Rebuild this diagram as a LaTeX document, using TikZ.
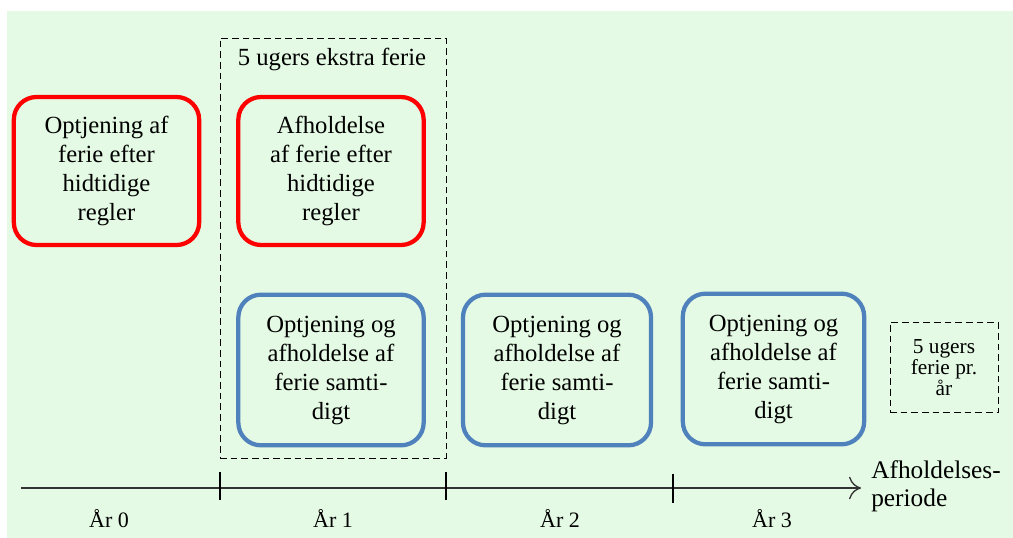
\documentclass[tikz,border=0pt]{standalone}
\usepackage{fontspec}
\setmainfont{Liberation Serif}
\usetikzlibrary{arrows.meta}
\definecolor{bggreen}{RGB}{228,250,228}
\definecolor{boxred}{RGB}{255,0,0}
\definecolor{boxblue}{RGB}{79,129,189}
\tikzset{
  bigtext/.style={font=\fontsize{18.5}{21.75}\selectfont, align=center, text=black},
  redbox/.style={draw=boxred, line width=3.2pt, rounded corners=17pt, minimum width=139pt, minimum height=111pt, inner sep=0pt, bigtext},
  bluebox/.style={draw=boxblue, line width=3.2pt, rounded corners=17pt, minimum height=113pt, inner sep=0pt, bigtext},
  dashbox/.style={draw=black, dashed, line width=0.7pt, dash pattern=on 5pt off 3pt},
  tick/.style={draw=black, line width=0.8pt},
  yearlbl/.style={font=\fontsize{16.5}{18}\selectfont, text=black, anchor=base},
}
\begin{document}
\begin{tikzpicture}[x=0.75pt,y=-0.75pt]
\useasboundingbox (0,0) rectangle (1013,538);
\fill[bggreen] (7,11) rectangle (1013,538);
% dashed group box
\node[dashbox, minimum width=169.5pt, minimum height=315pt, inner sep=0pt] (grp) at (333,248) {};
\node[bigtext, anchor=base] (grplbl) at (332,66) {5 ugers ekstra ferie};
% red boxes
\node[redbox] (r0) at (106.5,171) {Optjening af\\ferie efter\\hidtidige\\regler};
\node[redbox] (r1) at (331,171) {Afholdelse\\af ferie efter\\hidtidige\\regler};
% blue boxes
\node[bluebox, minimum width=139pt] (b1) at (331,370) {Optjening og\\afholdelse af\\ferie samti-\\digt};
\node[bluebox, minimum width=141pt] (b2) at (557,370) {Optjening og\\afholdelse af\\ferie samti-\\digt};
\node[bluebox, minimum width=136pt] (b3) at (773.5,369) {Optjening og\\afholdelse af\\ferie samti-\\digt};
% small dashed box
\node[dashbox, minimum width=81pt, minimum height=68pt, inner sep=0pt, font=\fontsize{16}{15.5}\selectfont, align=center] (five) at (944,367.5) {5 ugers\\ferie pr.\\år};
% axis
\coordinate (a0) at (21,488);
\coordinate (a1) at (861,488);
\draw[line width=1pt, draw=black!80, -{To[length=9pt,width=17pt]}] (a0) -- (a1);
\node[font=\fontsize{19}{21}\selectfont, align=left, anchor=north west, inner sep=0pt] (axlbl) at (871,460) {Afholdelses-\\periode};
% ticks
\coordinate (t1a) at (220,472); \coordinate (t1b) at (220,500);
\coordinate (t2a) at (446,472); \coordinate (t2b) at (446,500);
\coordinate (t3a) at (673,474); \coordinate (t3b) at (673,503);
\draw[tick] (t1a) -- (t1b);
\draw[tick] (t2a) -- (t2b);
\draw[tick] (t3a) -- (t3b);
% year labels
\node[yearlbl] (y0) at (109,527) {År 0};
\node[yearlbl] (y1) at (333,527) {År 1};
\node[yearlbl] (y2) at (560,527) {År 2};
\node[yearlbl] (y3) at (772,527) {År 3};
\end{tikzpicture}
\end{document}
